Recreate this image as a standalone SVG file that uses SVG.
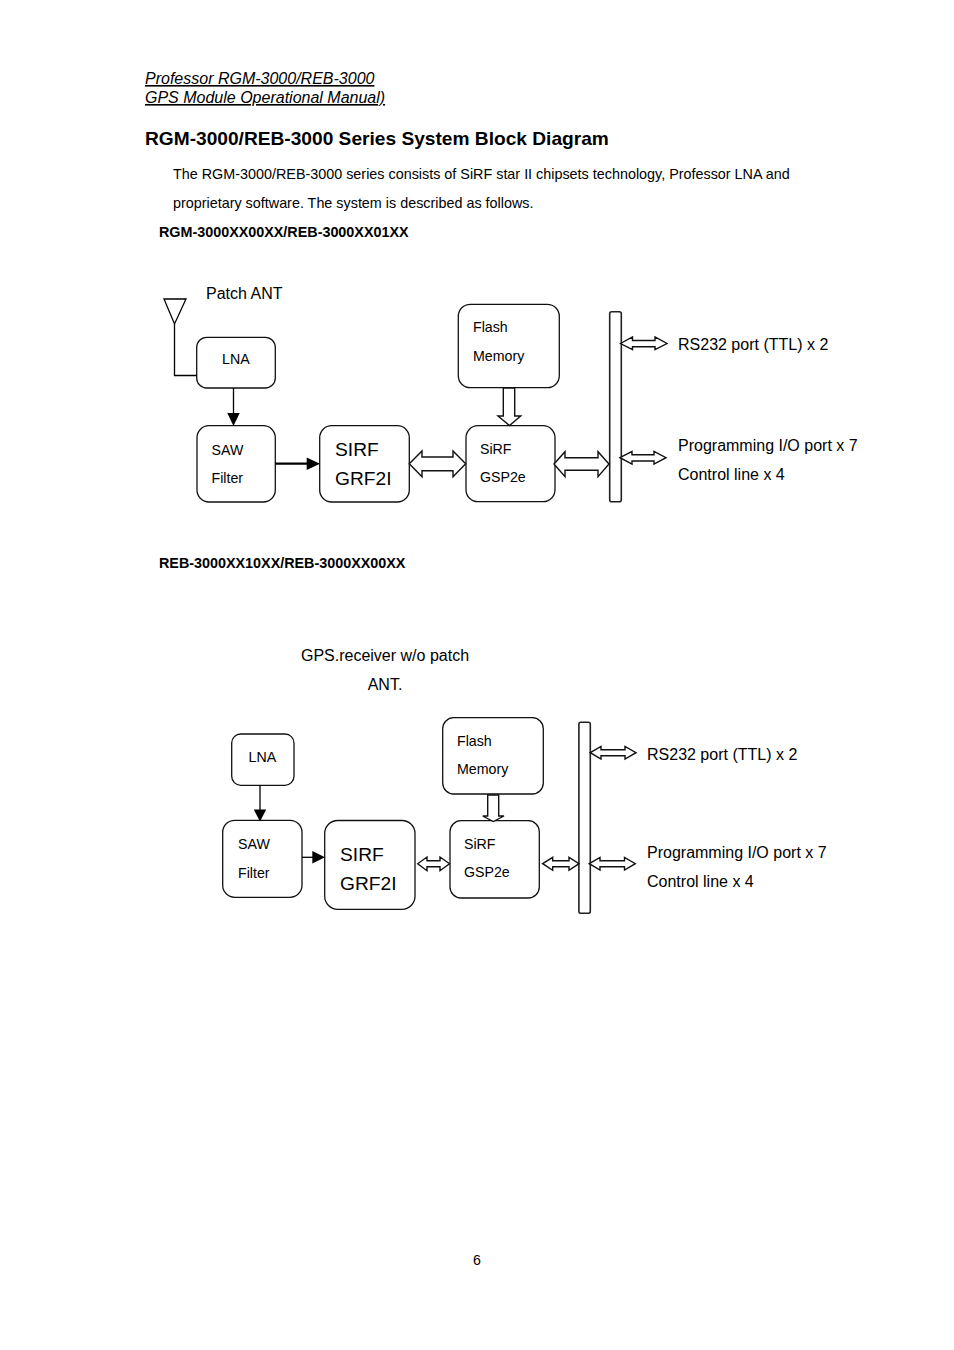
<svg xmlns="http://www.w3.org/2000/svg" width="954" height="1350" viewBox="0 0 954 1350">
<style>
text{font-family:"Liberation Sans",Arial,sans-serif;fill:#000}
.hd{font-size:16px;font-style:italic;text-decoration:underline;text-decoration-skip-ink:none;text-underline-offset:2.5px}
.body{font-size:14.37px}
.sub{font-size:14.35px;font-weight:bold}
.s{font-size:14.2px}
.m{font-size:16px}
.b{font-size:19.2px}
.box{fill:#fff;stroke:#111;stroke-width:1.3}
.ln{fill:none;stroke:#000;stroke-width:1.3}
.dbl{fill:#fff;stroke:#111;stroke-width:1.4}
.bar{fill:#fff;stroke:#222;stroke-width:1.6}
.hp{fill:#000}
</style>
<rect width="954" height="1350" fill="#fff"/>
<g id="header">
<text class="hd" x="145" y="84">Professor RGM-3000/REB-3000</text>
<text class="hd" x="145" y="103">GPS Module Operational Manual)</text>
<text x="145" y="145" font-size="19.15" font-weight="bold">RGM-3000/REB-3000 Series System Block Diagram</text>
<text class="body" x="173" y="179">The RGM-3000/REB-3000 series consists of SiRF star II chipsets technology, Professor LNA and</text>
<text class="body" x="173" y="208">proprietary software. The system is described as follows.</text>
<text class="sub" x="159" y="237">RGM-3000XX00XX/REB-3000XX01XX</text>
<text class="sub" x="159" y="568">REB-3000XX10XX/REB-3000XX00XX</text>
<text class="s" x="477" y="1265" text-anchor="middle">6</text>
</g>
<g id="labels">
<text class="m" x="206" y="299">Patch ANT</text>
<text class="m" x="678" y="350">RS232 port (TTL) x 2</text>
<text class="m" x="678" y="451">Programming I/O port x 7</text>
<text class="m" x="678" y="480">Control line x 4</text>
<text class="m" x="385" y="661" text-anchor="middle">GPS.receiver w/o patch</text>
<text class="m" x="385" y="690" text-anchor="middle">ANT.</text>
<text class="m" x="647" y="760">RS232 port (TTL) x 2</text>
<text class="m" x="647" y="858">Programming I/O port x 7</text>
<text class="m" x="647" y="887">Control line x 4</text>
</g>
<g id="lna1"><rect class="box" x="196.7" y="337.3" width="78.6" height="50.7" rx="10"/><text class="s" x="222" y="364">LNA</text></g>
<g id="saw1"><rect class="box" x="197" y="425.7" width="78.3" height="76.3" rx="12"/><text class="s" x="211.5" y="455">SAW</text><text class="s" x="211.5" y="483">Filter</text></g>
<g id="sirf1"><rect class="box" x="319.7" y="425.7" width="89.6" height="76.3" rx="12"/><text class="b" x="335" y="456">SIRF</text><text class="b" x="335" y="485">GRF2I</text></g>
<g id="flash1"><rect class="box" x="458.3" y="304.3" width="101" height="83.4" rx="12"/><text class="s" x="473" y="332">Flash</text><text class="s" x="473" y="361">Memory</text></g>
<g id="gsp1"><rect class="box" x="466" y="425.7" width="89" height="76" rx="12"/><text class="s" x="480" y="454">SiRF</text><text class="s" x="480" y="482">GSP2e</text></g>
<g id="bus1"><rect class="bar" x="609.7" y="311.7" width="11.6" height="190" rx="2"/></g>
<g id="lna2"><rect class="box" x="231.7" y="734" width="62.3" height="51.3" rx="9"/><text class="s" x="248.5" y="762">LNA</text></g>
<g id="saw2"><rect class="box" x="222.7" y="820.3" width="79.3" height="77" rx="12"/><text class="s" x="238" y="849">SAW</text><text class="s" x="238" y="878">Filter</text></g>
<g id="sirf2"><rect class="box" x="324.7" y="820.5" width="90.3" height="88.8" rx="13"/><text class="b" x="340" y="861">SIRF</text><text class="b" x="340" y="890">GRF2I</text></g>
<g id="flash2"><rect class="box" x="442.7" y="717.7" width="100.6" height="76.3" rx="11"/><text class="s" x="457" y="746">Flash</text><text class="s" x="457" y="774">Memory</text></g>
<g id="gsp2"><rect class="box" x="450" y="820.7" width="89.3" height="77.3" rx="11"/><text class="s" x="464" y="849">SiRF</text><text class="s" x="464" y="877">GSP2e</text></g>
<g id="bus2"><rect class="bar" x="578.9" y="722.3" width="11.4" height="191" rx="2"/></g>
<g id="connectors">
<path class="ln" d="M164 299H186L174.5 324ZM174.5 324V375.5H197"/>
<path class="ln" d="M233.5 388V414"/><path class="hp" d="M227.3 413H239.7L233.5 426Z"/>
<path class="ln" style="stroke-width:2.2" d="M275 463.7H308"/><path class="hp" d="M306.7 457.4L320 463.7L306.7 470Z"/>
<path class="dbl" d="M409.3 463.7L422 451V457H453V451L465.7 463.7L453 476.7V470.7H422V476.7Z"/>
<path class="dbl" d="M554 464L565 451.7V457.7H598V451.7L609 464L598 476.7V470.3H565V476.7Z"/>
<path class="dbl" d="M503.3 388H514.7V416H520.7L509.5 425.5L498 416H503.3Z"/>
<path class="dbl" d="M620.5 343.5L632.5 337V340.5H655V337L667 343.5L655 349.7V346.7H632.5V349.7Z"/>
<path class="dbl" d="M620 457.7L632 451.3V454.7H654V451.3L666 457.7L654 464V461H632V464Z"/>
<path class="ln" d="M260 785V811"/><path class="hp" d="M253.8 809.5H266.2L260 821.5Z"/>
<path class="ln" d="M302 857.3H313"/><path class="hp" d="M312.3 851L325 857.3L312.3 863.6Z"/>
<path class="dbl" d="M417.7 863.7L427 857V860.7H440V857L449.5 863.7L440 870.7V866.7H427V870.7Z"/>
<path class="dbl" d="M487.7 795H498.7V816H504L493.3 821.5L482.7 816H487.7Z"/>
<path class="dbl" d="M542.7 863.7L552.7 857.3V860.7H569V857.3L579 863.7L569 870.3V866.7H552.7V870.3Z"/>
<path class="dbl" d="M590.3 752.7L601 746.5V749.7H625V746.5L636 752.7L625 759V755.7H601V759Z"/>
<path class="dbl" d="M589.3 863.7L600 857.5V860.7H624.5V857.5L635.3 863.7L624.5 870V866.7H600V870Z"/>
</g>
</svg>
